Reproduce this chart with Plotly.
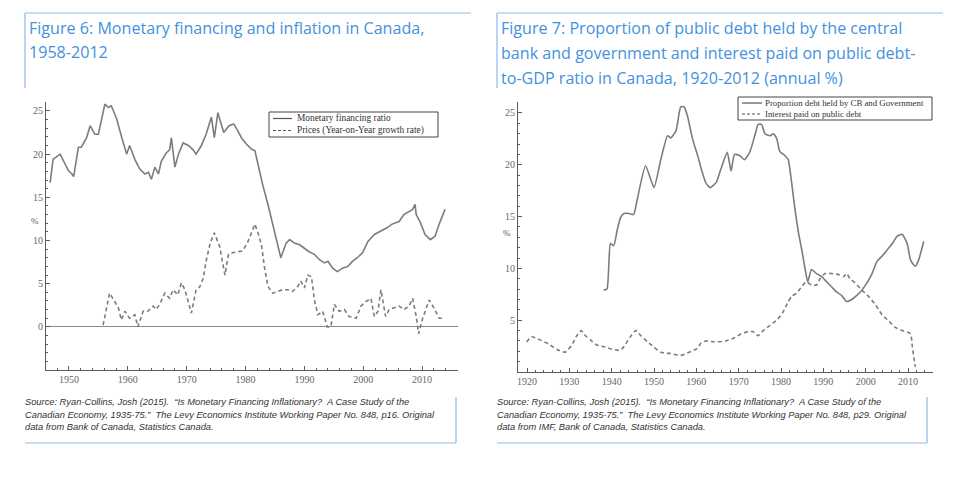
import plotly.graph_objects as go

# the page body adds an 8px margin, so the figure is drawn 8px in from the window edge
OFF = 8
W, H = 960 - 2 * OFF, 480 - 2 * OFF

# ---------------- data: Figure 6 ----------------
mf_year = [1946.8, 1947.3, 1948.5, 1949.9, 1950.5, 1950.8, 1951.6, 1952.1, 1953.0, 1953.6,
           1954.4, 1955.0, 1956.1, 1956.7, 1957.2, 1958.1, 1958.9, 1959.8, 1960.3, 1961.2,
           1962.0, 1962.9, 1963.5, 1964.0, 1964.6, 1965.2, 1965.7, 1966.6, 1967.1, 1967.4,
           1968.0, 1968.6, 1969.4, 1970.3, 1971.1, 1971.6, 1972.5, 1973.3, 1974.2, 1974.7,
           1975.3, 1976.3, 1977.2, 1978.0, 1978.7, 1979.3, 1980.1, 1981.0, 1981.6, 1982.1,
           1982.9, 1983.8, 1984.6, 1985.3, 1986.0, 1986.9, 1987.5, 1988.3, 1989.2, 1990.0,
           1990.8, 1991.7, 1992.5, 1993.4, 1994.0, 1994.8, 1995.6, 1996.5, 1997.4, 1998.2,
           1999.0, 1999.9, 2000.8, 2001.9, 2003.1, 2004.1, 2004.9, 2006.1, 2006.9, 2007.8,
           2008.4, 2008.8, 2009.0, 2009.7, 2010.5, 2011.4, 2012.2, 2012.9, 2013.9]
mf_val = [16.7, 19.4, 20.0, 18.1, 17.7, 17.4, 20.8, 20.8, 21.9, 23.3,
          22.3, 22.3, 25.8, 25.4, 25.6, 24.1, 22.1, 20.0, 21.0, 19.4,
          18.3, 17.7, 17.9, 17.1, 18.5, 17.7, 19.2, 20.2, 20.5, 21.9,
          18.5, 20.0, 21.3, 21.0, 20.5, 20.0, 21.0, 22.3, 24.3, 21.9,
          24.8, 22.5, 23.3, 23.5, 22.7, 21.9, 21.2, 20.6, 20.4, 18.8,
          16.5, 14.2, 11.9, 10.0, 8.0, 9.7, 10.1, 9.7, 9.5, 9.1,
          8.7, 8.4, 7.8, 7.4, 7.6, 6.8, 6.4, 6.8, 7.0, 7.6,
          8.0, 8.6, 9.9, 10.7, 11.1, 11.5, 11.9, 12.2, 13.0, 13.4,
          13.6, 14.2, 13.0, 12.1, 10.7, 10.1, 10.5, 11.9, 13.6]

pr_year = [1955.8, 1956.3, 1956.9, 1957.8, 1958.4, 1958.9, 1959.5, 1960.3, 1961.2, 1961.7,
           1962.6, 1963.4, 1964.3, 1964.8, 1965.4, 1966.3, 1967.1, 1967.7, 1968.5, 1969.1,
           1969.7, 1970.8, 1971.6, 1972.2, 1972.8, 1973.3, 1974.0, 1974.7, 1975.6, 1976.5,
           1977.1, 1977.9, 1979.5, 1980.3, 1981.2, 1981.6, 1982.2, 1982.7, 1983.2, 1983.8,
           1984.6, 1985.5, 1986.3, 1987.2, 1988.0, 1988.9, 1989.4, 1990.0, 1990.6, 1991.2,
           1991.7, 1992.3, 1993.1, 1993.9, 1994.5, 1995.1, 1995.9, 1996.8, 1997.6, 1998.8,
           1999.6, 2000.4, 2001.3, 2001.9, 2002.5, 2003.0, 2003.8, 2004.4, 2005.2, 2006.1,
           2006.9, 2007.8, 2008.4, 2009.0, 2009.4, 2010.1, 2011.2, 2012.0, 2012.9, 2013.5]
pr_val = [0.2, 2.0, 3.9, 2.9, 2.2, 0.8, 1.8, 1.0, 1.4, 0.0,
          1.8, 1.8, 2.4, 2.0, 2.6, 3.9, 3.3, 4.3, 3.7, 5.1,
          4.3, 1.6, 4.3, 4.6, 5.6, 7.6, 9.7, 10.9, 9.3, 6.0,
          8.4, 8.6, 8.8, 9.7, 11.1, 11.9, 10.7, 9.5, 7.0, 4.7,
          3.9, 4.1, 4.3, 4.3, 4.1, 4.7, 5.3, 4.5, 6.0, 5.8,
          3.1, 1.4, 1.8, 0.0, 0.0, 2.6, 1.8, 2.0, 1.2, 1.0,
          2.4, 2.9, 3.3, 1.2, 1.8, 4.3, 1.2, 2.0, 2.2, 2.4,
          2.0, 2.4, 3.3, 1.2, -0.8, 1.0, 3.1, 2.2, 1.0, 1.0]

# ---------------- data: Figure 7 ----------------
cb_year = [1938.1, 1938.9, 1939.7, 1940.5, 1941.3, 1942.1, 1942.9, 1944.1, 1945.2, 1946.0,
           1948.0, 1950.0, 1951.6, 1953.2, 1954.0, 1955.2, 1956.3, 1957.1, 1957.9, 1959.1,
           1960.3, 1961.3, 1962.3, 1963.3, 1964.7, 1965.8, 1967.3, 1968.2, 1969.0, 1970.2,
           1971.4, 1972.6, 1973.8, 1974.6, 1975.4, 1976.2, 1977.4, 1978.2, 1979.0, 1979.7,
           1980.9, 1981.7, 1982.5, 1983.3, 1984.1, 1984.9, 1985.7, 1986.3, 1987.2, 1988.4,
           1989.6, 1990.8, 1992.0, 1993.2, 1994.3, 1995.5, 1996.7, 1997.9, 1999.1, 2000.3,
           2001.5, 2002.7, 2003.9, 2005.1, 2006.3, 2007.4, 2008.6, 2009.8, 2010.6, 2011.7,
           2012.5, 2013.7]
cb_val = [7.9, 8.0, 12.4, 12.2, 13.7, 14.9, 15.3, 15.3, 15.2, 16.6,
          19.9, 17.8, 20.5, 22.8, 22.6, 23.3, 25.6, 25.6, 24.7, 22.5,
          20.9, 19.4, 18.2, 17.8, 18.3, 19.6, 21.2, 19.4, 21.0, 20.9,
          20.5, 21.2, 22.8, 23.9, 23.9, 23.0, 22.8, 23.0, 22.5, 21.3,
          20.9, 20.5, 18.3, 15.7, 13.5, 11.8, 9.9, 8.7, 9.9, 9.5,
          9.2, 8.7, 8.2, 7.7, 7.4, 6.8, 7.0, 7.4, 7.9, 8.6,
          9.5, 10.7, 11.2, 11.8, 12.4, 13.1, 13.3, 12.4, 10.8, 10.2,
          10.8, 12.6]

ip_year = [1919.9, 1921.1, 1923.1, 1925.1, 1927.0, 1929.0, 1930.6, 1931.6, 1932.8, 1933.8,
           1935.0, 1936.5, 1938.5, 1940.0, 1942.1, 1943.3, 1944.4, 1945.7, 1946.9, 1948.5,
           1950.0, 1951.6, 1953.6, 1956.3, 1958.3, 1960.3, 1961.1, 1962.3, 1964.3, 1967.0,
           1969.0, 1970.6, 1972.2, 1973.4, 1974.6, 1975.8, 1977.4, 1979.0, 1980.5, 1981.7,
           1982.5, 1983.7, 1984.8, 1986.0, 1987.2, 1988.4, 1989.2, 1990.4, 1992.0, 1993.6,
           1994.8, 1995.5, 1996.3, 1997.5, 1999.1, 2000.7, 2002.3, 2003.9, 2005.5, 2007.0,
           2008.6, 2010.6, 2011.0, 2011.7]
ip_val = [2.9, 3.4, 3.1, 2.7, 2.2, 1.9, 2.6, 3.4, 4.0, 3.5,
          3.1, 2.6, 2.4, 2.2, 2.1, 2.7, 3.4, 4.0, 3.5, 2.9,
          2.4, 1.9, 1.8, 1.6, 1.9, 2.3, 2.8, 3.0, 2.9, 3.0,
          3.3, 3.7, 3.9, 3.9, 3.5, 4.0, 4.5, 5.0, 5.8, 6.8,
          7.3, 7.6, 8.2, 8.7, 8.4, 8.4, 9.0, 9.5, 9.5, 9.4,
          9.2, 9.5, 9.0, 8.6, 7.9, 7.3, 6.5, 5.5, 4.9, 4.3,
          4.0, 3.7, 2.5, 0.5]

left_ticks_y = [0, 5, 10, 15, 20, 25]
right_ticks_y = [5, 10, 15, 20, 25]
left_ticks_x = [1950, 1960, 1970, 1980, 1990, 2000, 2010]
right_ticks_x = [1920, 1930, 1940, 1950, 1960, 1970, 1980, 1990, 2000, 2010]

title6 = ["Figure 6: Monetary financing and inflation in Canada,", "1958-2012"]
title7 = ["Figure 7: Proportion of public debt held by the central",
          "bank and government and interest paid on public debt-",
          "to-GDP ratio in Canada, 1920-2012 (annual %)"]
src6 = ["Source: Ryan-Collins, Josh (2015).  \u201cIs Monetary Financing Inflationary?  A Case Study of the",
        "Canadian Economy, 1935-75.\u201d  The Levy Economics Institute Working Paper No. 848, p16. Original",
        "data from Bank of Canada, Statistics Canada."]
src7 = ["Source: Ryan-Collins, Josh (2015).  \u201cIs Monetary Financing Inflationary?  A Case Study of the",
        "Canadian Economy, 1935-75.\u201d  The Levy Economics Institute Working Paper No. 848, p29. Original",
        "data from IMF, Bank of Canada, Statistics Canada."]
leg6 = ["Monetary financing ratio", "Prices (Year-on-Year growth rate)"]
leg7 = ["Proportion debt held by CB and Government", "Interest paid on public debt"]

# ---------------- styling ----------------
LINE = "#7c7c7c"
AXIS = "#5a5a5a"
BLUE = "#4391de"
FRAME = "#8dbbe9"
SERIF = "Liberation Serif, Times New Roman, serif"
SANS = "Liberation Sans, Arial, sans-serif"
TITLE_FONT = "Open Sans, Liberation Sans, sans-serif"


def px(x):
    return (x - OFF) / W


def py(y):
    return 1 - (y - OFF) / H


fig = go.Figure()
fig.add_trace(go.Scatter(x=mf_year, y=mf_val, mode="lines", name=leg6[0],
                         line=dict(color=LINE, width=1.6), xaxis="x", yaxis="y", showlegend=False))
fig.add_trace(go.Scatter(x=pr_year, y=pr_val, mode="lines", name=leg6[1],
                         line=dict(color=LINE, width=1.6, dash="4px,3px"), xaxis="x", yaxis="y", showlegend=False))
fig.add_trace(go.Scatter(x=cb_year, y=cb_val, mode="lines", name=leg7[0],
                         line=dict(color=LINE, width=1.6, shape="spline", smoothing=0.5),
                         xaxis="x2", yaxis="y2", showlegend=False))
fig.add_trace(go.Scatter(x=ip_year, y=ip_val, mode="lines", name=leg7[1],
                         line=dict(color=LINE, width=1.6, dash="4px,3px", shape="spline", smoothing=0.5),
                         xaxis="x2", yaxis="y2", showlegend=False))

tickfont = dict(family=SERIF, size=10, color="#666666")
common = dict(showgrid=False, showline=True, linecolor=AXIS, linewidth=1.2, ticks="inside",
              ticklen=4, tickcolor=AXIS, tickwidth=1, tickfont=tickfont, fixedrange=True)

fig.update_layout(
    width=W, height=H, margin=dict(l=0, r=0, t=0, b=0),
    paper_bgcolor="white", plot_bgcolor="white", showlegend=False,
    xaxis=dict(domain=[px(46), px(458)], range=[1946.1, 2016.1], anchor="y",
               tickvals=left_ticks_x, zeroline=False,
               minor=dict(dtick=2, tick0=1950, ticks="inside", ticklen=2, tickcolor=AXIS), **common),
    yaxis=dict(domain=[py(370), py(102)], range=[-5, 26.04], anchor="x",
               tickvals=left_ticks_y, zeroline=True, zerolinecolor="#8a8a8a", zerolinewidth=1.3,
               minor=dict(dtick=1, tick0=0, ticks="inside", ticklen=2, tickcolor=AXIS), **common),
    xaxis2=dict(domain=[px(518), px(933)], range=[1917.87, 2015.9], anchor="y2",
                tickvals=right_ticks_x, zeroline=False,
                minor=dict(dtick=2, tick0=1920, ticks="inside", ticklen=2, tickcolor=AXIS), **common),
    yaxis2=dict(domain=[py(372), py(102)], range=[0, 26.06], anchor="x2",
                tickvals=right_ticks_y, zeroline=False,
                minor=dict(dtick=1, tick0=0, ticks="inside", ticklen=2, tickcolor=AXIS), **common),
)

shapes = []
annots = []


def hline(x0, x1, y, color=FRAME, width=1.2, dash=None):
    d = dict(type="line", xref="paper", yref="paper", x0=px(x0), x1=px(x1), y0=py(y), y1=py(y),
             line=dict(color=color, width=width))
    if dash:
        d["line"]["dash"] = dash
    shapes.append(d)


def vline(x, y0, y1, color=FRAME, width=1.2):
    shapes.append(dict(type="line", xref="paper", yref="paper", x0=px(x), x1=px(x), y0=py(y0), y1=py(y1),
                       line=dict(color=color, width=width)))


def text(x, y, s, size, color, family, xanchor="left"):
    annots.append(dict(xref="paper", yref="paper", x=px(x), y=py(y), text=s, showarrow=False,
                       xanchor=xanchor, yanchor="middle", align="left", borderpad=0,
                       font=dict(size=size, color=color, family=family)))


# title frames
hline(25, 471, 13)
vline(25, 13, 88)
hline(497, 943, 13)
vline(497, 13, 88)
# source frames
vline(456, 397, 443)
hline(25, 456, 443)
vline(927, 397, 443)
hline(497, 927, 443)

# titles
for i, s in enumerate(title6):
    text(28, 28 + i * 24, s, 16.1, BLUE, TITLE_FONT)
for i, s in enumerate(title7):
    text(500, 28 + i * 25, s, 16.1, BLUE, TITLE_FONT)

# sources
for i, s in enumerate(src6):
    text(24, 402 + i * 12.5, "<i>" + s + "</i>", 9.3, "#333333", SANS)
for i, s in enumerate(src7):
    text(496, 402 + i * 12.5, "<i>" + s + "</i>", 9.3, "#333333", SANS)

# % labels
text(35, 221, "%", 9, "#555555", SERIF, xanchor="center")
text(507, 233, "%", 9, "#555555", SERIF, xanchor="center")

# legends (drawn as framed boxes; each legend's two rows form one text block)
shapes.append(dict(type="rect", xref="paper", yref="paper", x0=px(269), x1=px(438), y0=py(137), y1=py(112),
                   line=dict(color="#444444", width=1), fillcolor="white"))
hline(273, 292, 118.5, color="#555555", width=1.2)
hline(273, 292, 130.5, color="#555555", width=1.2, dash="3px,2px")
text(296, 124.5, leg6[0] + "<br>" + leg6[1], 9.4, "#333333", SERIF)

shapes.append(dict(type="rect", xref="paper", yref="paper", x0=px(738), x1=px(932), y0=py(120), y1=py(97),
                   line=dict(color="#444444", width=1), fillcolor="white"))
hline(742, 762, 103, color="#555555", width=1.2)
hline(742, 762, 114, color="#555555", width=1.2, dash="3px,2px")
text(764, 108.5, leg7[0] + "<br>" + leg7[1], 8.8, "#333333", SERIF)

fig.update_layout(shapes=shapes, annotations=annots)
fig.write_html("out.html")
